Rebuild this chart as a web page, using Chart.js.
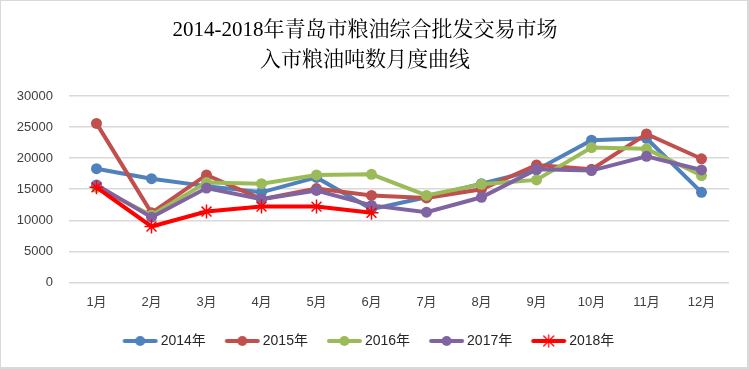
<!DOCTYPE html>
<html>
<head>
<meta charset="utf-8">
<script src="https://cdn.jsdelivr.net/npm/chart.js@4.4.1/dist/chart.umd.min.js"></script>
<style>
  html, body { margin: 0; padding: 0; background: #fff; }
  #box {
    position: absolute; left: 0; top: 0;
    width: 746px; height: 366px;
    border: 1px solid #d9d9d9; border-right-width: 2px; border-bottom-width: 2px;
    background: #fff;
  }
  canvas { display: block; }
</style>
</head>
<body>
<div id="box"><canvas id="chart" width="746" height="366"></canvas></div>
<script>
const months = ['1月', '2月', '3月', '4月', '5月', '6月', '7月', '8月', '9月', '10月', '11月', '12月'];
const titleLines = ['2014-2018年青岛市粮油综合批发交易市场', '入市粮油吨数月度曲线'];

const y2014 = [18300, 16700, 15500, 14500, 16900, 11800, 13700, 15900, 18100, 22900, 23200, 14500];
const y2015 = [25600, 11200, 17300, 13400, 15100, 14000, 13600, 15000, 18900, 18200, 23900, 19900];
const y2016 = [15300, 10800, 16100, 15900, 17300, 17400, 14000, 15800, 16500, 21700, 21500, 17200];
const y2017 = [15700, 10500, 15200, 13400, 14800, 12400, 11300, 13700, 18200, 18000, 20300, 18100];
const y2018 = [15300, 9000, 11400, 12200, 12200, 11200];

const yTicks = [0, 5000, 10000, 15000, 20000, 25000, 30000];

const sansFont = "'Liberation Sans', 'Noto Sans CJK SC', sans-serif";
const serifFont = "'Liberation Serif', 'Noto Serif CJK SC', 'Noto Sans CJK SC', serif";

// legend swatch: line with marker in the middle, like the office legend.
// the canvas is wider than the legend box and the swatch sits on its right
// part, so it ends close to the label text
function legendIcon(color, star) {
  const c = document.createElement('canvas');
  c.width = 48; c.height = 14;
  const g = c.getContext('2d');
  const x0 = 12, x1 = 47, cx = (x0 + x1) / 2;
  g.strokeStyle = color;
  g.lineWidth = 4;
  g.lineCap = 'round';
  g.beginPath(); g.moveTo(x0 + 2, 7); g.lineTo(x1 - 2, 7); g.stroke();
  if (star) {
    g.lineWidth = 1.3;
    g.beginPath();
    g.moveTo(cx, 1); g.lineTo(cx, 13);
    g.moveTo(cx - 5, 2); g.lineTo(cx + 5, 12);
    g.moveTo(cx + 5, 2); g.lineTo(cx - 5, 12);
    g.stroke();
  } else {
    g.fillStyle = color;
    g.beginPath(); g.arc(cx, 7, 5, 0, Math.PI * 2); g.fill();
  }
  return c;
}

function series(label, data, color, order) {
  return {
    label: label,
    data: data,
    borderColor: color,
    backgroundColor: color,
    borderWidth: 4,
    pointRadius: 5.5,
    pointHoverRadius: 5.5,
    pointBorderWidth: 0,
    pointStyle: 'circle',
    tension: 0,
    order: order,
    legendIcon: legendIcon(color, false)
  };
}

const datasets = [
  series('2014年', y2014, '#4f81bd', 5),
  series('2015年', y2015, '#c0504d', 4),
  series('2016年', y2016, '#9bbb59', 3),
  series('2017年', y2017, '#8064a2', 2),
  {
    label: '2018年',
    data: y2018,
    borderColor: '#ff0000',
    backgroundColor: '#ff0000',
    borderWidth: 4,
    pointStyle: 'star',
    pointRadius: 7,
    pointHoverRadius: 7,
    pointBorderWidth: 1.5,
    tension: 0,
    order: 1,
    legendIcon: legendIcon('#ff0000', true)
  }
];

new Chart(document.getElementById('chart').getContext('2d'), {
  type: 'line',
  data: { labels: months, datasets: datasets },
  options: {
    responsive: false,
    animation: false,
    devicePixelRatio: 1,
    layout: { padding: { left: 0, right: 18, top: 10, bottom: 9 } },
    plugins: {
      tooltip: { enabled: false },
      title: {
        display: true,
        text: titleLines,
        color: '#000',
        font: { family: serifFont, size: 21, weight: 'normal', lineHeight: 1.43 },
        padding: { top: 4, bottom: 21 }
      },
      legend: {
        position: 'bottom',
        sort: (a, b) => a.datasetIndex - b.datasetIndex,
        labels: {
          usePointStyle: true,
          pointStyleWidth: 38,
          padding: 12,
          color: '#262626',
          font: { family: sansFont, size: 14 },
          generateLabels: (chart) => chart.data.datasets.map((ds, i) => ({
            text: ds.label,
            pointStyle: ds.legendIcon,
            fillStyle: ds.borderColor,
            strokeStyle: ds.borderColor,
            lineWidth: 0,
            fontColor: '#262626',
            datasetIndex: i,
            hidden: false
          }))
        }
      }
    },
    scales: {
      x: {
        offset: true,
        grid: { display: false, drawTicks: false },
        border: { display: false },
        ticks: { color: '#404040', font: { family: sansFont, size: 13 }, padding: 12 }
      },
      y: {
        min: 0,
        max: 30000,
        afterBuildTicks: (axis) => { axis.ticks = yTicks.map(v => ({ value: v })); },
        afterFit: (axis) => { axis.width = 68; },
        grid: { color: '#d9d9d9', lineWidth: 1.5, drawTicks: false },
        border: { display: false },
        ticks: {
          color: '#404040',
          font: { family: sansFont, size: 13 },
          padding: 16,
          callback: (v) => String(v)
        }
      }
    }
  }
});
</script>
</body>
</html>
